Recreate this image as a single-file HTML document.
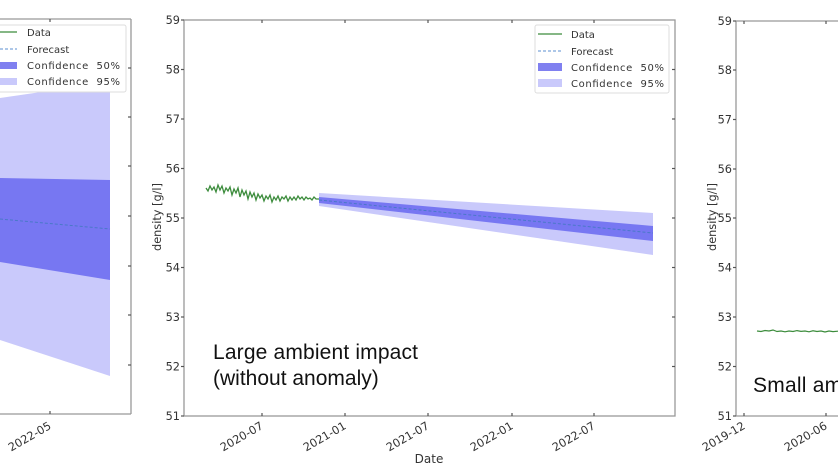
<!DOCTYPE html>
<html><head><meta charset="utf-8"><style>
html,body{margin:0;padding:0;background:#fff;}
svg{display:block;}
.tl{font-family:"DejaVu Sans","Liberation Sans",sans-serif;font-size:11.3px;fill:#333;}
.lg{font-family:"DejaVu Sans","Liberation Sans",sans-serif;font-size:10px;fill:#333;}
.big{font-family:"Liberation Sans",Arial,sans-serif;font-size:21px;fill:#111;}
</style></head><body>
<svg width="838" height="471" viewBox="0 0 838 471" xmlns="http://www.w3.org/2000/svg">
<rect width="838" height="471" fill="#fff"/>

<!-- ============ LEFT PANEL (partial) ============ -->
<polygon points="0,98 110,82 110,376 0,340" fill="#c9c9fb"/>
<polygon points="0,178 110,180 110,280 0,262" fill="#7777f2"/>
<line x1="0" y1="219" x2="110" y2="229" stroke="#4a78c8" stroke-width="1" stroke-dasharray="3,2"/>
<g stroke="#999" stroke-width="1.3" fill="none">
<line x1="0" y1="19" x2="131" y2="19"/>
<line x1="131" y1="19" x2="131" y2="414"/>
<line x1="0" y1="414" x2="131" y2="414"/>
</g>
<g stroke="#555" stroke-width="1.2">
<line x1="50" y1="19" x2="50" y2="22"/>
<line x1="50" y1="414" x2="50" y2="411"/>
<line x1="128" y1="68" x2="131" y2="68"/>
<line x1="128" y1="117" x2="131" y2="117"/>
<line x1="128" y1="166" x2="131" y2="166"/>
<line x1="128" y1="216" x2="131" y2="216"/>
<line x1="128" y1="266" x2="131" y2="266"/>
<line x1="128" y1="315" x2="131" y2="315"/>
<line x1="128" y1="365" x2="131" y2="365"/>
</g>
<text class="tl" transform="translate(52,428) rotate(-30)" text-anchor="end">2022-05</text>
<!-- left legend -->
<rect x="-5" y="25" width="131" height="67" rx="2" fill="#fff" stroke="#ddd" stroke-width="1"/>
<line x1="-5" y1="32" x2="17" y2="32" stroke="#3c8c3c" stroke-width="1.3"/>
<line x1="-5" y1="49" x2="17" y2="49" stroke="#5b8fd0" stroke-width="1" stroke-dasharray="3,2"/>
<rect x="-5" y="62" width="22" height="7" fill="#8080f0"/>
<rect x="-5" y="78" width="22" height="7" fill="#c9c9fb"/>
<text class="lg" x="27" y="36">Data</text>
<text class="lg" x="27" y="53">Forecast</text>
<text class="lg" x="27" y="69" textLength="93" xml:space="preserve">Confidence  50%</text>
<text class="lg" x="27" y="85" textLength="93" xml:space="preserve">Confidence  95%</text>

<!-- ============ MIDDLE PANEL ============ -->
<polygon points="319,193 653,213 653,255 319,206" fill="#c9c9fb"/>
<polygon points="319,197 653,226 653,241 319,203" fill="#7777f2"/>
<line x1="319" y1="200" x2="653" y2="233" stroke="#4a78c8" stroke-width="1" stroke-dasharray="3,2"/>
<polyline fill="none" stroke="#3c8c3c" stroke-width="1.3" points="206,188 208,191 210,186 212,190 214,187 216,192 218,185 220,190 222,186 224,193 226,188 228,191 230,187 232,195 234,189 236,193 238,188 240,197 242,190 244,195 246,191 248,199 250,192 252,197 254,193 256,200 258,194 260,198 262,195 264,201 266,196 268,199 270,195 272,202 274,197 276,200 278,196 280,201 282,197 284,199 286,196 288,201 290,197 292,200 294,197 296,200 298,196 300,199 302,197 304,200 306,197 308,199 310,198 312,200 314,197 316,199 319,199"/>
<g stroke="#999" stroke-width="1.3" fill="none">
<rect x="184" y="20" width="491" height="396"/>
</g>
<g stroke="#555" stroke-width="1.2">
<line x1="181" y1="20" x2="184" y2="20"/>
<line x1="181" y1="69.5" x2="184" y2="69.5"/>
<line x1="181" y1="119" x2="184" y2="119"/>
<line x1="181" y1="168.5" x2="184" y2="168.5"/>
<line x1="181" y1="218" x2="184" y2="218"/>
<line x1="181" y1="267.5" x2="184" y2="267.5"/>
<line x1="181" y1="317" x2="184" y2="317"/>
<line x1="181" y1="366.5" x2="184" y2="366.5"/>
<line x1="181" y1="416" x2="184" y2="416"/>
<line x1="672" y1="69.5" x2="675" y2="69.5"/>
<line x1="672" y1="119" x2="675" y2="119"/>
<line x1="672" y1="168.5" x2="675" y2="168.5"/>
<line x1="672" y1="218" x2="675" y2="218"/>
<line x1="672" y1="267.5" x2="675" y2="267.5"/>
<line x1="672" y1="317" x2="675" y2="317"/>
<line x1="672" y1="366.5" x2="675" y2="366.5"/>
<line x1="262" y1="416" x2="262" y2="413"/>
<line x1="345" y1="416" x2="345" y2="413"/>
<line x1="428" y1="416" x2="428" y2="413"/>
<line x1="512" y1="416" x2="512" y2="413"/>
<line x1="594" y1="416" x2="594" y2="413"/>
<line x1="262" y1="20" x2="262" y2="23"/>
<line x1="345" y1="20" x2="345" y2="23"/>
<line x1="428" y1="20" x2="428" y2="23"/>
<line x1="512" y1="20" x2="512" y2="23"/>
<line x1="594" y1="20" x2="594" y2="23"/>
</g>
<g class="tl" text-anchor="end">
<text x="180" y="24">59</text>
<text x="180" y="73.5">58</text>
<text x="180" y="123">57</text>
<text x="180" y="172.5">56</text>
<text x="180" y="222">55</text>
<text x="180" y="271.5">54</text>
<text x="180" y="321">53</text>
<text x="180" y="370.5">52</text>
<text x="180" y="420">51</text>
</g>
<g class="tl" text-anchor="end">
<text transform="translate(264,428) rotate(-30)">2020-07</text>
<text transform="translate(347,428) rotate(-30)">2021-01</text>
<text transform="translate(430,428) rotate(-30)">2021-07</text>
<text transform="translate(514,428) rotate(-30)">2022-01</text>
<text transform="translate(596,428) rotate(-30)">2022-07</text>
</g>
<text class="tl" x="429" y="463" text-anchor="middle" style="font-size:12px">Date</text>
<text class="tl" transform="translate(161,217) rotate(-90)" text-anchor="middle">density [g/l]</text>
<text class="big" x="213" y="359" textLength="205">Large ambient impact</text>
<text class="big" x="213" y="385">(without anomaly)</text>
<!-- middle legend -->
<rect x="535" y="25" width="134" height="68" rx="2" fill="#fff" stroke="#ddd" stroke-width="1"/>
<line x1="538" y1="34" x2="562" y2="34" stroke="#3c8c3c" stroke-width="1.3"/>
<line x1="538" y1="51" x2="562" y2="51" stroke="#5b8fd0" stroke-width="1" stroke-dasharray="3,2"/>
<rect x="538" y="63" width="24" height="8" fill="#8080f0"/>
<rect x="538" y="79" width="24" height="8" fill="#c9c9fb"/>
<text class="lg" x="571" y="38">Data</text>
<text class="lg" x="571" y="55">Forecast</text>
<text class="lg" x="571" y="71" textLength="93" xml:space="preserve">Confidence  50%</text>
<text class="lg" x="571" y="87" textLength="93" xml:space="preserve">Confidence  95%</text>

<!-- ============ RIGHT PANEL (partial) ============ -->
<polyline fill="none" stroke="#3c8c3c" stroke-width="1.2" points="757,331 761,331.5 765,330.5 769,331 773,330 777,331.5 781,331 785,331.8 789,331 793,331.5 797,330.6 801,331.4 805,331 809,331.8 813,330.8 817,331.5 821,331 825,332 829,331 833,331.6 838,331.2"/>
<g stroke="#999" stroke-width="1.3" fill="none">
<line x1="736" y1="21" x2="838" y2="21"/>
<line x1="736" y1="21" x2="736" y2="416"/>
<line x1="736" y1="416" x2="838" y2="416"/>
</g>
<g stroke="#555" stroke-width="1.2">
<line x1="733" y1="21" x2="736" y2="21"/>
<line x1="733" y1="70" x2="736" y2="70"/>
<line x1="733" y1="119.5" x2="736" y2="119.5"/>
<line x1="733" y1="169" x2="736" y2="169"/>
<line x1="733" y1="218" x2="736" y2="218"/>
<line x1="733" y1="267.5" x2="736" y2="267.5"/>
<line x1="733" y1="317" x2="736" y2="317"/>
<line x1="733" y1="366.5" x2="736" y2="366.5"/>
<line x1="733" y1="416" x2="736" y2="416"/>
<line x1="744" y1="21" x2="744" y2="24"/>
<line x1="826" y1="21" x2="826" y2="24"/>
<line x1="744" y1="416" x2="744" y2="413"/>
<line x1="826" y1="416" x2="826" y2="413"/>
</g>
<g class="tl" text-anchor="end">
<text x="732" y="25">59</text>
<text x="732" y="74">58</text>
<text x="732" y="123.5">57</text>
<text x="732" y="173">56</text>
<text x="732" y="222">55</text>
<text x="732" y="271.5">54</text>
<text x="732" y="321">53</text>
<text x="732" y="370.5">52</text>
<text x="732" y="420">51</text>
</g>
<g class="tl" text-anchor="end">
<text transform="translate(746,428) rotate(-30)">2019-12</text>
<text transform="translate(828,428) rotate(-30)">2020-06</text>
</g>
<text class="tl" transform="translate(716,217) rotate(-90)" text-anchor="middle">density [g/l]</text>
<text class="big" x="753" y="392" textLength="205">Small ambient impact</text>
</svg>
</body></html>
